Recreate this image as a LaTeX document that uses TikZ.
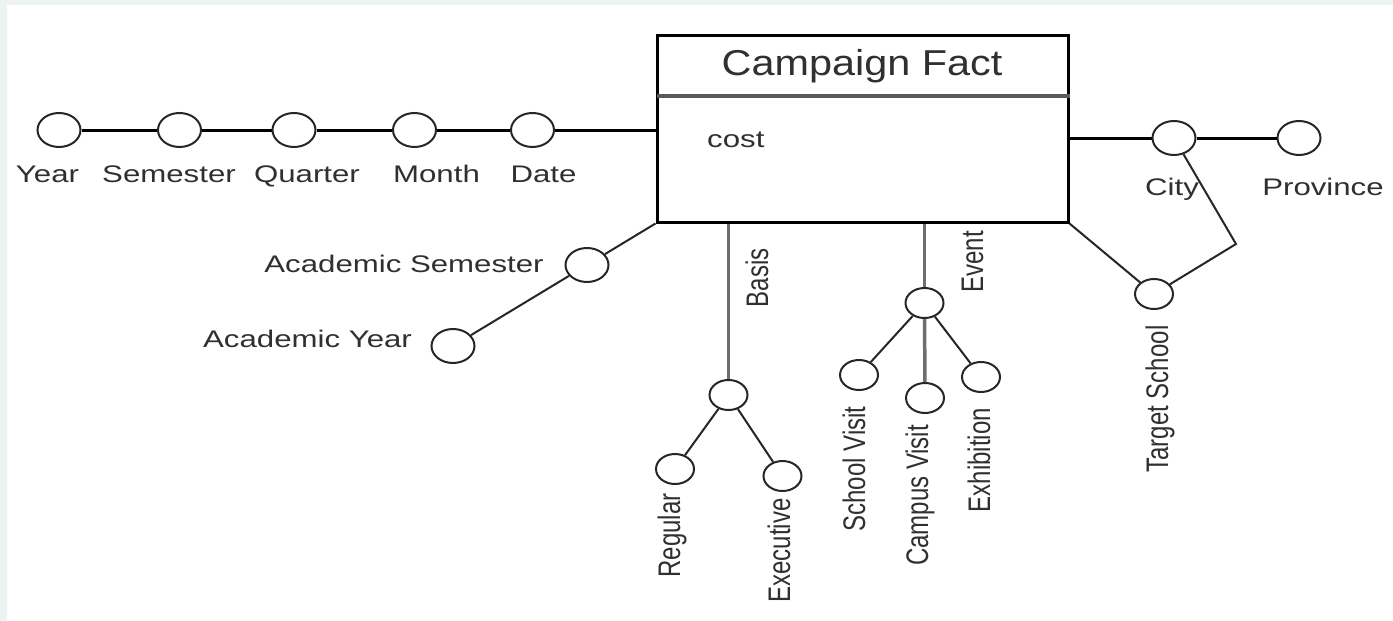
\documentclass[tikz,border=0pt]{standalone}
\usepackage{fontspec}
\setmainfont{Liberation Sans}
\usepackage{graphicx}
\usetikzlibrary{shapes.geometric}
\definecolor{txt}{HTML}{303030}
\definecolor{stem}{HTML}{6E6E6E}
\definecolor{rim}{HTML}{EDF2F3}
\definecolor{divider}{HTML}{5A5A5A}
% horizontally / vertically widened glyphs
\newcommand{\hs}[1]{\scalebox{1.3}[1]{#1}}
\newcommand{\vs}[1]{\scalebox{1}[1.3]{#1}}

\begin{document}
\begin{tikzpicture}[x=1pt,y=-1pt,
  attr/.style={ellipse, draw=black!85, line width=2pt, fill=white,
               minimum width=43pt, minimum height=34pt, inner sep=0pt},
  attrs/.style={attr, minimum width=38pt, minimum height=30pt},
  lbl/.style={font=\fontsize{24}{28}\selectfont, text=txt, inner sep=0pt, anchor=base},
  vlbl/.style={lbl, rotate=90},
  link/.style={draw=black, line width=3pt},
  thin/.style={draw=black!85, line width=2pt},
  stemline/.style={draw=stem, line width=3.5pt},
]
% page and its pale rim
\fill[rim] (0,0) rectangle (1393,621);
\fill[white] (7,5) rectangle (1393,621);
\useasboundingbox (0,0) rectangle (1393,621);

% fact table
\node[draw=black, line width=3pt, minimum width=411pt, minimum height=187pt,
      inner sep=0pt] (fact) at (862.5,128.5) {};
\coordinate (divL) at (657,95.5);
\draw[divider, line width=4pt] (divL) -- (divL -| fact.east);
\node[lbl, font=\fontsize{36}{40}\selectfont] (title) at (862,75) {\scalebox{1.15}[1]{Campaign Fact}};
\node[lbl, anchor=base west] (cost) at (707,147) {\hs{cost}};

% time hierarchy
\node[attr] (year) at (59,130) {};
\node[attr] (sem)  at (179.5,130) {};
\node[attr] (qtr)  at (294,130) {};
\node[attr] (mon)  at (414.5,130) {};
\node[attr] (date) at (532.5,130) {};
\node[lbl] (yearL) at (47.5,182) {\hs{Year}};
\node[lbl] (semL)  at (169,182) {\hs{Semester}};
\node[lbl] (qtrL)  at (307,182) {\hs{Quarter}};
\node[lbl] (monL)  at (436.5,182) {\hs{Month}};
\node[lbl] (dateL) at (543.5,182) {\hs{Date}};
\draw[link] (year) -- (sem);
\draw[link] (sem) -- (qtr);
\draw[link] (qtr) -- (mon);
\draw[link] (mon) -- (date);
\draw[link] (date) -- (date -| fact.west);

% location hierarchy
\node[attr] (city) at (1174,138) {};
\node[attr] (prov) at (1299,138) {};
\node[lbl] (cityL) at (1172,195.5) {\hs{City}};
\node[lbl] (provL) at (1323,195) {\hs{Province}};
\draw[link] (city -| fact.east) -- (city);
\draw[link] (city) -- (prov);
\node[attrs] (ts) at (1154,294) {};
\coordinate (bend) at (1236,244);
\draw[thin] (fact.south east) -- (ts);
\draw[thin] (city) -- (bend) -- (ts);
\node[vlbl] (tsL) at (1168,399) {\vs{Target School}};

% academic calendar
\node[attr] (asem)  at (587,265) {};
\node[attr] (ayear) at (453,346) {};
\draw[thin] (fact.south west) -- (asem);
\draw[thin] (asem) -- (ayear);
\node[lbl] (asemL)  at (404,272) {\hs{Academic Semester}};
\node[lbl] (ayearL) at (307.5,347) {\hs{Academic Year}};

% basis
\node[attrs] (basis) at (728.5,395) {};
\node[attrs] (reg)   at (675,469) {};
\node[attrs] (exec)  at (782.5,476) {};
\draw[stemline] (basis |- fact.south) -- (basis);
\draw[thin] (basis) -- (reg);
\draw[thin] (basis) -- (exec);
\node[vlbl] (basisL) at (768,278) {\vs{Basis}};
\node[vlbl] (regL)   at (680,535.5) {\vs{Regular}};
\node[vlbl] (execL)  at (790,550.5) {\vs{Executive}};

% event
\node[attrs] (event) at (924.5,303) {};
\node[attrs] (sv)    at (859,375) {};
\node[attrs] (cv)    at (925,398) {};
\node[attrs] (ex)    at (981,377) {};
\draw[stemline] (event |- fact.south) -- (event);
\draw[thin] (event) -- (sv);
\draw[thin] (event) -- (ex);
\draw[stemline] (event) -- (cv);
\node[vlbl] (eventL) at (983,262) {\vs{Event}};
\node[vlbl] (svL)    at (865,469) {\vs{School Visit}};
\node[vlbl] (cvL)    at (928,495.5) {\vs{Campus Visit}};
\node[vlbl] (exL)    at (990,460) {\vs{Exhibition}};
\end{tikzpicture}
\end{document}
